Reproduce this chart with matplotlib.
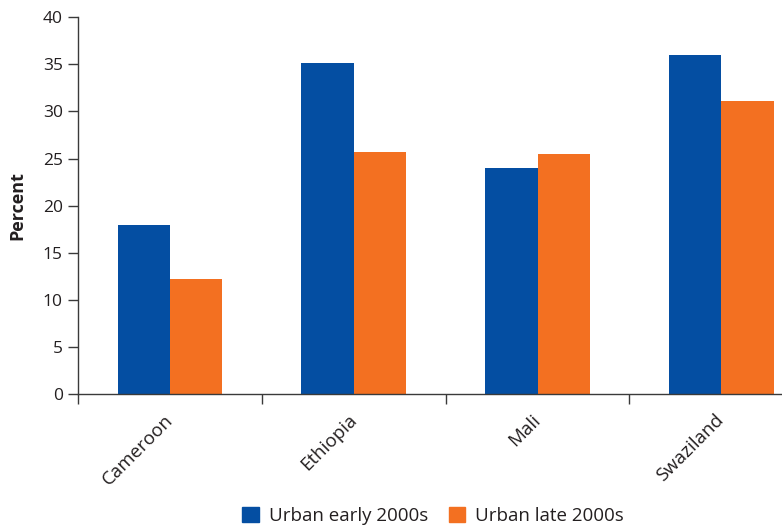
import matplotlib
matplotlib.use("Agg")
import matplotlib.pyplot as plt
import numpy as np
from matplotlib.patches import Patch

countries = ["Cameroon", "Ethiopia", "Mali", "Swaziland"]
urban_early = [17.9, 35.1, 24.0, 36.0]
urban_late = [12.2, 25.7, 25.5, 31.1]
series_labels = ["Urban early 2000s", "Urban late 2000s"]
y_ticks = [0, 5, 10, 15, 20, 25, 30, 35, 40]

blue = "#044EA2"
orange = "#F37021"
text_color = "#231F20"

plt.rcParams["font.family"] = ["Open Sans", "DejaVu Sans"]

fig = plt.figure(figsize=(7.82, 5.32), dpi=100)
ax = fig.add_axes([78 / 782, 138 / 532, 1 - 78 / 782, 376.7 / 532])

x = np.arange(len(countries))
w = 0.285
ax.bar(x - w / 2, urban_early, width=w, color=blue, linewidth=0)
ax.bar(x + w / 2, urban_late, width=w, color=orange, linewidth=0)

ax.set_ylim(0, 40)
ax.set_xlim(-0.5, 3.33)
ax.set_yticks(y_ticks)
ax.set_yticklabels([str(t) for t in y_ticks], fontsize=12.5, color=text_color)

ax.set_xticks(x)
ax.set_xticklabels(countries, rotation=45, ha="right", va="center",
                   rotation_mode="anchor", fontsize=13.5, color=text_color)
ax.tick_params(axis="x", which="major", length=0, pad=17)
ax.set_xticks(np.arange(-0.5, 3.0, 1.0), minor=True)
ax.tick_params(axis="x", which="minor", length=7, width=1, color="#3a3a3a")
ax.tick_params(axis="y", length=7, width=1, color="#3a3a3a", pad=4)

for s in ["top", "right"]:
    ax.spines[s].set_visible(False)
for s in ["left", "bottom"]:
    ax.spines[s].set_color("#3a3a3a")
    ax.spines[s].set_linewidth(1)

ax.set_ylabel("Percent", fontsize=13, fontweight="bold", color=text_color, labelpad=12)

handles = [Patch(color=blue), Patch(color=orange)]
fig.legend(handles, series_labels, loc="center", bbox_to_anchor=(433 / 782, 1 - 516 / 532),
           ncol=2, frameon=False, fontsize=13.5, handlelength=0.9, handleheight=0.9,
           handletextpad=0.5, columnspacing=1.1, labelcolor=text_color)

fig.savefig("out.png", dpi=100)
